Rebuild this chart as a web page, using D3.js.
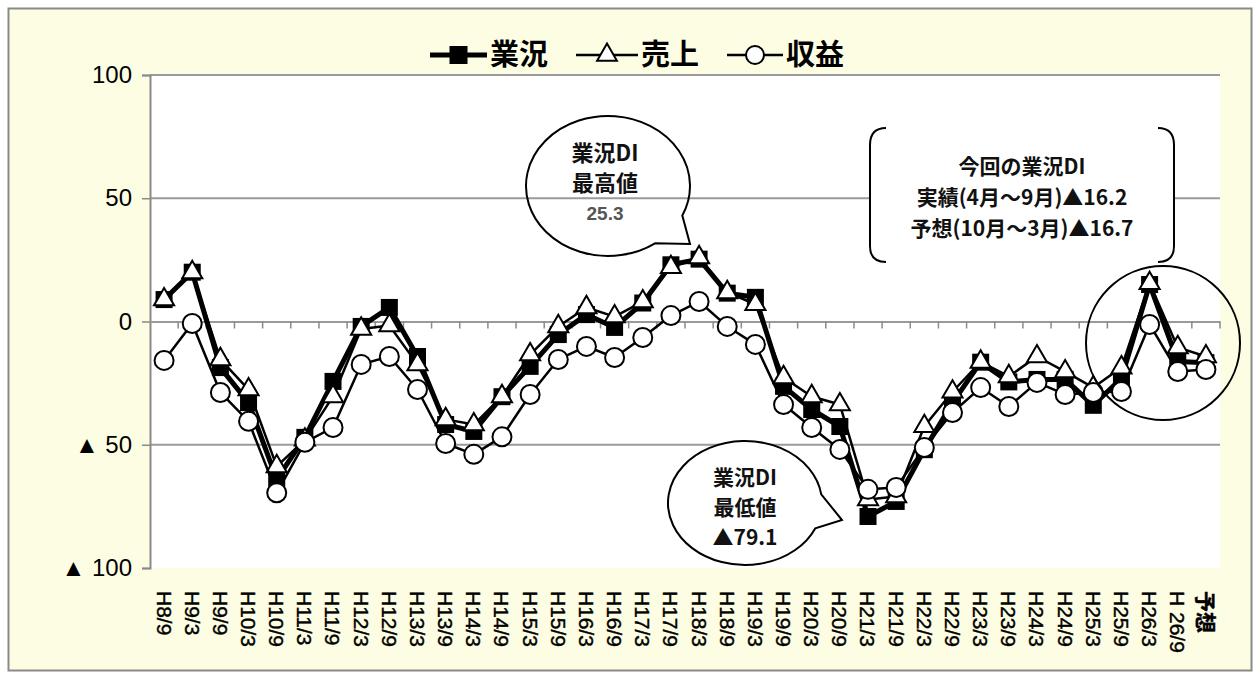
<!DOCTYPE html>
<html>
<head>
<meta charset="utf-8">
<script src="https://cdn.jsdelivr.net/npm/d3@7"></script>
<style>
  body { margin: 0; background: #ffffff; }
  svg { display: block; }
  .jp { font-family: "Noto Sans CJK JP", "Noto Sans", sans-serif; }
  .num { font-family: "Liberation Sans", Arial, sans-serif; }
</style>
</head>
<body>
<svg id="chart"></svg>
<script>

//categories along the bottom, last two are the latest result and the forecast//
var periods = ["H8/9","H9/3","H9/9","H10/3","H10/9","H11/3","H11/9","H12/3","H12/9",
               "H13/3","H13/9","H14/3","H14/9","H15/3","H15/9","H16/3","H16/9","H17/3",
               "H17/9","H18/3","H18/9","H19/3","H19/9","H20/3","H20/9","H21/3","H21/9",
               "H22/3","H22/9","H23/3","H23/9","H24/3","H24/9","H25/3","H25/9","H26/3",
               "H 26/9","予想"];

//series values//
var gyokyo = [8.9, 20, -18.7, -32.9, -64, -47, -24.3, -2, 5.7, -14.2, -41.8, -44.6, -30.5,
              -18.2, -5.3, 2.8, -2.4, 7.5, 23, 25.3, 11.5, 9.8, -26.3, -35.7, -42.6, -79.1,
              -73, -52, -33, -16.5, -24.5, -23.5, -23.5, -34, -23, 15, -16.2, -16.7];
var uriage = [8.9, 19.9, -15.4, -27.6, -58.8, -48, -30.4, -3, -1.6, -17.4, -39.7, -41.8, -30.4,
              -13.4, -2, 5.7, 2, 8.1, 22, 26, 11.8, 7, -22.7, -30.4, -33.7, -72.2,
              -71, -42.5, -28.5, -16.4, -22.3, -14.2, -20.3, -26.8, -18.7, 15.5, -10.5, -14.2];
var shueki = [-15.8, -0.8, -28.8, -40.5, -69.5, -49, -43, -17.4, -14.2, -27.6, -49.5, -53.9, -46.8,
              -29.6, -15.4, -10.1, -14.6, -6.5, 2.4, 8.1, -2, -9.3, -33.7, -43, -51.9, -68.1,
              -67.3, -51.1, -36.9, -26.8, -34.5, -24.7, -29.6, -28.8, -28.4, -1.2, -20.3, -19.5];

var seriesNames = ["業況", "売上", "収益"];
var yTicks = [100, 50, 0, -50, -100];
var yTickText = ["100", "50", "0", "▲ 50", "▲ 100"];

//callout texts//
var highNote = ["業況DI", "最高値", "25.3"];
var lowNote = ["業況DI", "最低値", "▲79.1"];
var boxNote = ["今回の業況DI", "実績(4月～9月)▲16.2", "予想(10月～3月)▲16.7"];

var screen = {width: 1260, height: 679};
var plot = {left: 150, right: 1220, top: 75, bottom: 568};

var svg = d3.select("#chart")
            .attr("width", screen.width)
            .attr("height", screen.height);

//cream frame and white plot area//
svg.append("rect")
   .attr("x", 8.5).attr("y", 8.5)
   .attr("width", 1243).attr("height", 662)
   .attr("fill", "#fdfde4")
   .attr("stroke", "#8a8a8a")
   .attr("stroke-width", 2);

svg.append("rect")
   .attr("x", plot.left).attr("y", plot.top)
   .attr("width", plot.right - plot.left).attr("height", plot.bottom - plot.top)
   .attr("fill", "#ffffff");

var xScale = d3.scaleBand()
               .domain(periods)
               .range([plot.left, plot.right])
               .padding(0);

var yScale = d3.scaleLinear()
               .domain([-100, 100])
               .range([plot.bottom, plot.top]);

var cx = function(d, i) { return xScale(periods[i]) + xScale.bandwidth() / 2; };

//grid lines at 100, 50, -50//
svg.append("g")
   .selectAll("line")
   .data([100, 50, -50])
   .enter()
   .append("line")
   .attr("x1", plot.left).attr("x2", plot.right)
   .attr("y1", function(d) { return yScale(d); })
   .attr("y2", function(d) { return yScale(d); })
   .attr("stroke", "#9a9a9a")
   .attr("stroke-width", 2);

//y axis with the ▲ labels//
var yAxis = d3.axisLeft(yScale)
              .tickValues(yTicks)
              .tickSize(8)
              .tickPadding(10)
              .tickFormat(function(d, i) { return yTickText[i]; });

var yG = svg.append("g")
            .attr("transform", "translate(" + plot.left + ",0)")
            .call(yAxis);
yG.select(".domain").attr("stroke", "#8a8a8a").attr("stroke-width", 2);
yG.selectAll(".tick line").attr("stroke", "#8a8a8a").attr("stroke-width", 1.5);
yG.selectAll(".tick text")
  .attr("class", "num")
  .attr("font-size", 24)
  .attr("fill", "#000");

//zero line with ticks between the categories//
var xAxis = d3.axisBottom(xScale)
              .tickSize(0)
              .tickFormat("");
var xG = svg.append("g")
            .attr("transform", "translate(0," + yScale(0) + ")")
            .call(xAxis);
xG.select(".domain").attr("stroke", "#9a9a9a").attr("stroke-width", 2);

svg.append("g")
   .selectAll("line")
   .data(periods.slice(1).concat(["end"]))
   .enter()
   .append("line")
   .attr("x1", function(d, i) { return plot.left + xScale.bandwidth() * (i + 1); })
   .attr("x2", function(d, i) { return plot.left + xScale.bandwidth() * (i + 1); })
   .attr("y1", yScale(0))
   .attr("y2", yScale(0) + 7)
   .attr("stroke", "#8a8a8a")
   .attr("stroke-width", 1.5);

//category labels at the bottom, turned to read top to bottom//
svg.append("g")
   .selectAll("text")
   .data(periods)
   .enter()
   .append("text")
   .attr("class", function(d) { return d == "予想" ? "jp" : "num"; })
   .attr("transform", function(d) {
      return "translate(" + (xScale(d) + xScale.bandwidth() / 2) + ",591) rotate(90)";
   })
   .attr("dy", "0.36em")
   .attr("font-size", 21)
   .attr("font-weight", function(d) { return d == "予想" ? "bold" : "normal"; })
   .attr("fill", "#000")
   .attr("stroke", "#000")
   .attr("stroke-width", 0.4)
   .text(function(d) { return d; });

//lines and markers//
var line = d3.line()
             .x(cx)
             .y(function(d) { return yScale(d); });

var drawLine = function(values, width)
               {
               svg.append("path")
                  .datum(values)
                  .attr("d", line)
                  .attr("fill", "none")
                  .attr("stroke", "#000")
                  .attr("stroke-width", width)
                  .attr("stroke-linejoin", "round");
               }

drawLine(gyokyo, 5);
svg.append("g")
   .selectAll("rect")
   .data(gyokyo)
   .enter()
   .append("rect")
   .attr("x", function(d, i) { return cx(d, i) - 8.5; })
   .attr("y", function(d) { return yScale(d) - 8.5; })
   .attr("width", 17).attr("height", 17)
   .attr("fill", "#000");

drawLine(uriage, 2.5);
svg.append("g")
   .selectAll("path")
   .data(uriage)
   .enter()
   .append("path")
   .attr("d", d3.symbol(d3.symbolTriangle).size(175))
   .attr("transform", function(d, i) { return "translate(" + cx(d, i) + "," + yScale(d) + ")"; })
   .attr("fill", "#fff")
   .attr("stroke", "#000")
   .attr("stroke-width", 2);

drawLine(shueki, 2.5);
svg.append("g")
   .selectAll("circle")
   .data(shueki)
   .enter()
   .append("circle")
   .attr("cx", cx)
   .attr("cy", function(d) { return yScale(d); })
   .attr("r", 9.5)
   .attr("fill", "#fff")
   .attr("stroke", "#000")
   .attr("stroke-width", 2);

//legend at the top//
var legend = svg.append("g");
var legendItems = [{x: 430, w: 57}, {x: 576, w: 62}, {x: 727, w: 56}];

legendItems.forEach(function(item, k)
   {
   var mid = item.x + item.w / 2;
   legend.append("line")
         .attr("x1", item.x).attr("x2", item.x + item.w)
         .attr("y1", 55).attr("y2", 55)
         .attr("stroke", "#000")
         .attr("stroke-width", k == 0 ? 5 : 2.5);
   if (k == 0) {
      legend.append("rect").attr("x", mid - 9).attr("y", 46)
            .attr("width", 18).attr("height", 18).attr("fill", "#000");
   } else if (k == 1) {
      legend.append("path")
            .attr("d", d3.symbol(d3.symbolTriangle).size(170))
            .attr("transform", "translate(" + mid + ",55)")
            .attr("fill", "#fff").attr("stroke", "#000").attr("stroke-width", 2);
   } else {
      legend.append("circle").attr("cx", mid).attr("cy", 55).attr("r", 9)
            .attr("fill", "#fff").attr("stroke", "#000").attr("stroke-width", 2);
   }
   legend.append("text")
         .attr("class", "jp")
         .attr("x", item.x + item.w + 3)
         .attr("y", 55)
         .attr("dy", "0.36em")
         .attr("font-size", 29)
         .attr("font-weight", "bold")
         .text(seriesNames[k]);
   });

//speech bubbles//
var bubble = function(c, rx, ry, a1, a2, tip)
             {
             var p = function(a) {
                var r = a * Math.PI / 180;
                return [c[0] + rx * Math.cos(r), c[1] + ry * Math.sin(r)];
             };
             var s = p(a2), e = p(a1);
             return "M" + s[0] + "," + s[1] +
                    " A" + rx + "," + ry + " 0 1 1 " + e[0] + "," + e[1] +
                    " L" + tip[0] + "," + tip[1] + " Z";
             }

svg.append("path")
   .attr("d", bubble([608, 186], 82, 70, 25, 55, [690, 244]))
   .attr("fill", "none")
   .attr("stroke", "#000")
   .attr("stroke-width", 2);

svg.append("g")
   .selectAll("text")
   .data(highNote)
   .enter()
   .append("text")
   .attr("class", function(d, i) { return i == 2 ? "num" : "jp"; })
   .attr("x", 605)
   .attr("y", function(d, i) { return 153 + i * 30; })
   .attr("dy", "0.36em")
   .attr("text-anchor", "middle")
   .attr("font-size", function(d, i) { return i == 2 ? 19 : 22; })
   .attr("font-weight", "bold")
   .attr("fill", function(d, i) { return i == 2 ? "#555" : "#111"; })
   .text(function(d) { return d; });

svg.append("path")
   .attr("d", bubble([745, 503], 77, 62, -8, 24, [842, 520]))
   .attr("fill", "#fff")
   .attr("stroke", "#000")
   .attr("stroke-width", 2);

svg.append("g")
   .selectAll("text")
   .data(lowNote)
   .enter()
   .append("text")
   .attr("class", "jp")
   .attr("x", 745)
   .attr("y", function(d, i) { return 477 + i * 30; })
   .attr("dy", "0.36em")
   .attr("text-anchor", "middle")
   .attr("font-size", 21)
   .attr("font-weight", "bold")
   .attr("fill", "#111")
   .text(function(d) { return d; });

//bracket box top right//
svg.append("rect")
   .attr("x", 871).attr("y", 128)
   .attr("width", 302).attr("height", 134)
   .attr("fill", "#fff");

svg.append("path")
   .attr("d", "M886,128 Q870,128 870,145 L870,246 Q870,262 886,262")
   .attr("fill", "none").attr("stroke", "#000").attr("stroke-width", 2);
svg.append("path")
   .attr("d", "M1158,128 Q1174,128 1174,145 L1174,246 Q1174,262 1158,262")
   .attr("fill", "none").attr("stroke", "#000").attr("stroke-width", 2);

svg.append("g")
   .selectAll("text")
   .data(boxNote)
   .enter()
   .append("text")
   .attr("class", "jp")
   .attr("x", 1022)
   .attr("y", function(d, i) { return 166 + i * 31; })
   .attr("dy", "0.36em")
   .attr("text-anchor", "middle")
   .attr("font-size", 21)
   .attr("font-weight", "bold")
   .attr("fill", "#111")
   .text(function(d) { return d; });

//ring round the latest points//
svg.append("circle")
   .attr("cx", 1163).attr("cy", 343).attr("r", 77)
   .attr("fill", "none")
   .attr("stroke", "#000")
   .attr("stroke-width", 2);

</script>
</body>
</html>
